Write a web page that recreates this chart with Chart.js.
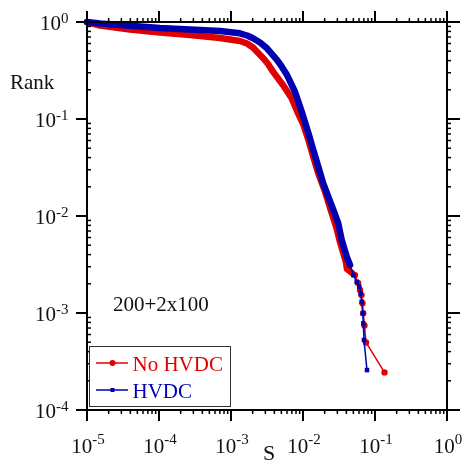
<!DOCTYPE html>
<html><head><meta charset="utf-8">
<script src="https://cdn.jsdelivr.net/npm/chart.js@4"></script>
<style>html,body{margin:0;padding:0;background:#fff;}canvas{display:block;}</style>
</head><body>
<canvas id="c" width="462" height="463"></canvas>
<script>
const seriesNames = ['No HVDC', 'HVDC'];
const noHvdcS = [1.0e-5, 1.52e-5, 3.95e-5, 1.03e-4, 2.70e-4, 7.03e-4, 1.33e-3, 1.67e-3, 2.02e-3, 2.78e-3, 3.27e-3, 3.83e-3, 5.27e-3, 6.92e-3, 8.40e-3, 1.016e-2, 1.19e-2, 1.39e-2, 1.625e-2, 1.99e-2, 2.43e-2, 2.92e-2, 3.21e-2, 3.59e-2, 3.95e-2, 4.08e-2, 4.80e-2, 5.27e-2, 5.81e-2, 6.19e-2, 6.49e-2, 6.70e-2, 6.88e-2, 7.14e-2, 7.50e-2, 0.1355];
const noHvdcRank = [1.0, 0.920, 0.837, 0.779, 0.734, 0.684, 0.637, 0.600, 0.546, 0.426, 0.369, 0.308, 0.224, 0.165, 0.118, 0.0867, 0.0607, 0.0406, 0.0277, 0.0185, 0.01153, 0.00752, 0.00566, 0.00425, 0.00335, 0.00284, 0.00258, 2.46e-3, 2.04e-3, 1.73e-3, 1.53e-3, 1.26e-3, 9.93e-4, 7.43e-4, 4.97e-4, 2.44e-4];
const hvdcS = [1.0e-5, 1.52e-5, 2.87e-5, 1.03e-4, 3.71e-4, 7.03e-4, 1.33e-3, 1.67e-3, 2.02e-3, 2.53e-3, 3.16e-3, 4.35e-3, 5.1e-3, 6.0e-3, 7.74e-3, 9.53e-3, 1.19e-2, 1.39e-2, 1.63e-2, 1.91e-2, 2.64e-2, 3.09e-2, 3.45e-2, 4.05e-2, 4.50e-2, 5.0e-2, 5.57e-2, 6.05e-2, 6.32e-2, 6.53e-2, 6.75e-2, 6.88e-2, 7.03e-2, 7.74e-2];
const hvdcRank = [1.0, 0.965, 0.931, 0.867, 0.827, 0.808, 0.765, 0.726, 0.679, 0.615, 0.536, 0.406, 0.344, 0.284, 0.191, 0.121, 0.0712, 0.0479, 0.0322, 0.0217, 0.01153, 0.00841, 0.00566, 0.00380, 0.00313, 2.46e-3, 2.10e-3, 1.87e-3, 1.60e-3, 1.31e-3, 9.93e-4, 7.83e-4, 5.27e-4, 2.58e-4];
const xTickExp = [-5, -4, -3, -2, -1, 0];
const yTickExp = [-4, -3, -2, -1, 0];
const xTitle = 'S';
const yTitle = 'Rank';
const noteText = '200+2x100';

const RED = '#e00000', BLUE = '#0000b0';
const FONT = '"Liberation Serif", "Times New Roman", serif';

function zip(xs, ys) { return xs.map((v, i) => ({ x: v, y: ys[i] })); }

function isTail(chart, di, idx) {
  const ds = chart.data.datasets[di];
  const p = ds.data[idx];
  return p && p.y < ds.tailY;
}

const frame = {
  id: 'frame',
  afterDraw(chart) {
    const { ctx, chartArea: a, scales: { x, y } } = chart;
    ctx.save();
    const ln = (x1, y1, x2, y2) => { ctx.beginPath(); ctx.moveTo(x1, y1); ctx.lineTo(x2, y2); ctx.stroke(); };
    ctx.strokeStyle = '#000';
    ctx.lineWidth = 2;
    ctx.strokeRect(a.left, a.top, a.right - a.left, a.bottom - a.top);
    const MAJ = 11, MIN = 4;
    xTickExp.forEach((e, i) => {
      const px = x.getPixelForValue(Math.pow(10, e));
      ctx.lineWidth = 2;
      ln(px, a.bottom, px, a.bottom + MAJ);
      ln(px, a.top, px, a.top - MAJ);
      if (i < xTickExp.length - 1) {
        ctx.lineWidth = 1.5;
        for (let k = 2; k <= 9; k++) {
          const pm = x.getPixelForValue(k * Math.pow(10, e));
          ln(pm, a.bottom, pm, a.bottom + MIN);
          ln(pm, a.top, pm, a.top - MIN);
        }
      }
    });
    yTickExp.forEach((e, i) => {
      const py = y.getPixelForValue(Math.pow(10, e));
      ctx.lineWidth = 2;
      ln(a.left, py, a.left - MAJ, py);
      ln(a.right, py, a.right + MAJ + 2, py);
      if (i < yTickExp.length - 1) {
        ctx.lineWidth = 1.5;
        for (let k = 2; k <= 9; k++) {
          const pm = y.getPixelForValue(k * Math.pow(10, e));
          ln(a.left, pm, a.left + MIN, pm);
          ln(a.right, pm, a.right + MIN, pm);
        }
      }
    });
    ctx.fillStyle = '#111';
    ctx.textBaseline = 'alphabetic';
    const mainF = '21px ' + FONT, supF = '15px ' + FONT;
    xTickExp.forEach(e => {
      const px = x.getPixelForValue(Math.pow(10, e));
      ctx.font = mainF; const w1 = ctx.measureText('10').width;
      ctx.font = supF; const w2 = ctx.measureText(String(e)).width;
      const sx = px - (w1 + w2) / 2 + 1;
      ctx.font = mainF; ctx.textAlign = 'left'; ctx.fillText('10', sx, a.bottom + 42.5);
      ctx.font = supF; ctx.fillText(String(e), sx + w1, a.bottom + 34);
    });
    yTickExp.forEach(e => {
      const py = y.getPixelForValue(Math.pow(10, e));
      ctx.font = supF; const w2 = ctx.measureText(String(e)).width;
      const rx = 68.5;
      ctx.textAlign = 'left';
      ctx.fillText(String(e), rx - w2, py + 1);
      ctx.font = mainF; const w1 = ctx.measureText('10').width;
      ctx.fillText('10', rx - w2 - w1, py + 7.5);
    });
    ctx.font = '22px ' + FONT;
    ctx.textAlign = 'center';
    ctx.fillText(xTitle, 269, 460);
    ctx.font = '21px ' + FONT;
    ctx.textAlign = 'left';
    ctx.fillText(yTitle, 10, 88.5);
    ctx.fillText(noteText, 113, 310.5);
    ctx.lineWidth = 1;
    ctx.strokeStyle = '#333';
    ctx.fillStyle = '#fff';
    ctx.fillRect(89.5, 346.5, 141, 60);
    ctx.strokeRect(89.5, 346.5, 141, 60);
    const rows = [
      { name: seriesNames[0], color: RED, y: 363, style: 'circle' },
      { name: seriesNames[1], color: BLUE, y: 390, style: 'rect' }
    ];
    rows.forEach(r => {
      ctx.strokeStyle = r.color; ctx.fillStyle = r.color; ctx.lineWidth = 1.5;
      ln(96, r.y, 128, r.y);
      if (r.style === 'circle') { ctx.beginPath(); ctx.arc(112.5, r.y, 3, 0, Math.PI * 2); ctx.fill(); }
      else { ctx.fillRect(110.5, r.y - 2, 4, 4); }
      ctx.font = '21px ' + FONT;
      ctx.textAlign = 'left';
      ctx.fillText(r.name, 132.5, r.y + 7.5);
    });
    ctx.restore();
  }
};

const thin = 1.5, thick = 6.5;
function ds(label, xs, ys, color, style, radius, tailY, order) {
  return {
    label, data: zip(xs, ys), borderColor: color, backgroundColor: color,
    pointBackgroundColor: color, pointBorderColor: color, pointBorderWidth: 0,
    pointStyle: style, tailY, order,
    pointRadius: c => (c.raw && c.raw.y < c.dataset.tailY) ? radius : 0,
    pointHoverRadius: 0,
    borderWidth: thick,
    borderJoinStyle: 'round', borderCapStyle: 'round',
    tension: 0, fill: false, clip: false,
    segment: {
      borderWidth: c => isTail(c.chart, c.datasetIndex, c.p1DataIndex) ? thin : thick
    }
  };
}

new Chart(document.getElementById('c'), {
  type: 'line',
  data: {
    datasets: [
      ds(seriesNames[0], noHvdcS, noHvdcRank, RED, 'circle', 3.2, 0.0025, 2),
      ds(seriesNames[1], hvdcS, hvdcRank, BLUE, 'rect', 3.2, 0.0026, 1)
    ]
  },
  options: {
    responsive: false, animation: false, devicePixelRatio: 1,
    layout: { padding: { left: 87, top: 22, right: 15, bottom: 53 } },
    plugins: { legend: { display: false }, tooltip: { enabled: false } },
    scales: {
      x: { type: 'logarithmic', min: 1e-5, max: 1, display: false },
      y: { type: 'logarithmic', min: 1e-4, max: 1, display: false }
    }
  },
  plugins: [frame]
});
</script>
</body></html>
